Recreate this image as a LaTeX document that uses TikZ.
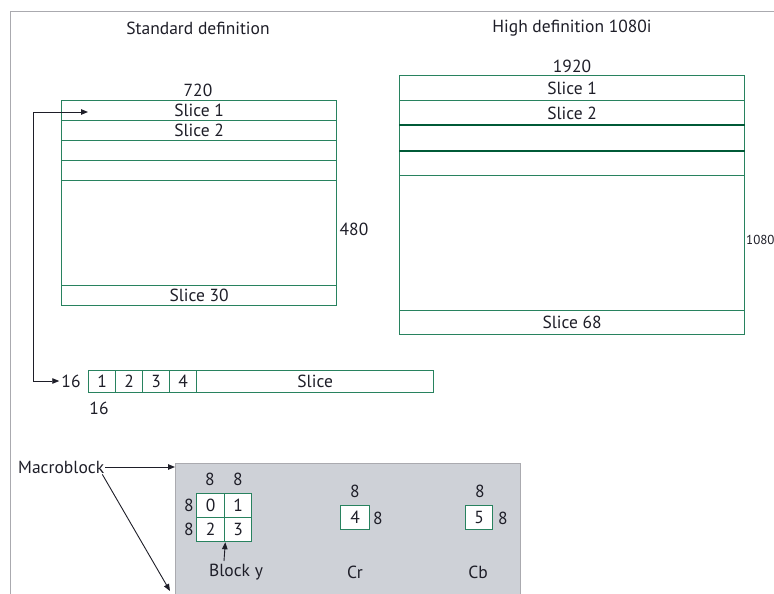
\documentclass[tikz,border=0pt]{standalone}
\usepackage{fontspec}
\setmainfont{PT Sans}
\usetikzlibrary{arrows.meta}
\definecolor{slicegreen}{RGB}{40,130,95}
\definecolor{darkgreen}{RGB}{0,90,55}
\definecolor{framegray}{RGB}{170,170,175}
\definecolor{mbgray}{RGB}{206,209,215}
\definecolor{ink}{RGB}{30,30,40}
\tikzset{
  lbl/.style={text=ink, font=\fontsize{17.5}{17.5}\selectfont, inner sep=0pt},
  cell/.style={draw=slicegreen, line width=1.3pt, fill=white, anchor=north west, inner sep=0pt,
    text=ink, font=\fontsize{17.5}{17.5}\selectfont},
  link/.style={draw=ink, line width=0.9pt, -{Triangle[length=7pt,width=5.5pt]}},
}
\begin{document}
\begin{tikzpicture}[x=1pt,y=-1pt]
\useasboundingbox (0,0) rectangle (774,594);
\clip (0,0) rectangle (774,594);
% outer frame
\draw[framegray, line width=1pt] (10,600) -- (10,12) -- (780,12);

% headings
\node[lbl] (sdtitle) at (198,28) {Standard definition};
\node[lbl] (hdtitle) at (572,28) {High definition 1080i};

% standard definition frame: 720 x 480
\node[cell, minimum width=275pt, minimum height=205pt] (sdframe) at (61,100) {};
\node[cell, minimum width=275pt, minimum height=20pt] (sd1) at (61,100) {Slice 1};
\node[cell, minimum width=275pt, minimum height=20pt] (sd2) at (61,120) {Slice 2};
\node[cell, minimum width=275pt, minimum height=20pt] (sd3) at (61,140) {};
\node[cell, minimum width=275pt, minimum height=20pt] (sd4) at (61,160) {};
\node[cell, minimum width=275pt, minimum height=20pt] (sd30) at (61,285) {Slice 30};
\node[lbl] (sdw) at (198,90) {720};
\node[lbl] (sdh) at (354,229) {480};

% high definition frame: 1920 x 1080
\node[cell, minimum width=345pt, minimum height=259pt] (hdframe) at (399,75) {};
\node[cell, minimum width=345pt, minimum height=25pt] (hd1) at (399,75) {Slice 1};
\node[cell, minimum width=345pt, minimum height=25pt] (hd2) at (399,100) {Slice 2};
\node[cell, minimum width=345pt, minimum height=25pt] (hd3) at (399,125) {};
\node[cell, minimum width=345pt, minimum height=25pt] (hd4) at (399,150) {};
\node[cell, minimum width=345pt, minimum height=24pt] (hd68) at (399,310) {Slice 68};
\draw[darkgreen, line width=2pt] (hd3.north west) -- (hd3.north east);
\draw[darkgreen, line width=2pt] (hd3.south west) -- (hd3.south east);
\node[lbl] (hdw) at (572,66) {1920};
\node[lbl, anchor=west, font=\fontsize{13}{13}\selectfont] (hdh) at (746,240) {1080};

% slice made of 16x16 macroblocks
\node[cell, minimum width=27pt, minimum height=22pt] (m1) at (88,370) {1};
\node[cell, minimum width=27pt, minimum height=22pt] (m2) at (115,370) {2};
\node[cell, minimum width=27pt, minimum height=22pt] (m3) at (142,370) {3};
\node[cell, minimum width=27pt, minimum height=22pt] (m4) at (169,370) {4};
\node[cell, minimum width=237pt, minimum height=22pt] (mrest) at (196,370) {Slice};
\node[lbl] (mbh) at (71,381) {16};
\node[lbl] (mbw) at (99,408) {16};

% slice 1 is expanded into the strip below
\coordinate (turnTop) at (33,112);
\coordinate (turnBot) at (33,381);
\coordinate (sliceIn) at (88,112);
\draw[link, {Triangle[length=7pt,width=5.5pt]}-{Triangle[length=7pt,width=5.5pt]}]
  (sliceIn) -- (turnTop) -- (turnBot) -- ([xshift=-2pt]mbh.west);

% macroblock structure
\node[draw=framegray, fill=mbgray, line width=1pt, anchor=north west, minimum width=345pt,
  minimum height=131pt, inner sep=0pt] (mb) at (175,463) {};
\node[lbl, anchor=west] (mbtext) at (18,467) {Macroblock};
\coordinate (mbTip) at (170,591);
\draw[link] ([xshift=1pt]mbtext.east) -- (mb.north west |- mbtext.east);
\draw[link] ([xshift=-2pt,yshift=-1pt]mbtext.south east) -- (mbTip);

% luminance blocks
\node[cell, minimum width=28pt, minimum height=24pt] (y0) at (196,493) {0};
\node[cell, minimum width=27pt, minimum height=24pt] (y1) at (224,493) {1};
\node[cell, minimum width=28pt, minimum height=24pt] (y2) at (196,517) {2};
\node[cell, minimum width=27pt, minimum height=24pt] (y3) at (224,517) {3};
\node[lbl] (yw1) at (210,479) {8};
\node[lbl] (yw2) at (238,479) {8};
\node[lbl] (yh1) at (189,505) {8};
\node[lbl] (yh2) at (189,529) {8};
\node[lbl] (ylabel) at (236,572) {Block y};
\draw[link] (224,561) -- (y2.south east);

% chrominance blocks
\node[cell, minimum width=29pt, minimum height=24pt] (cr) at (340,505) {4};
\node[lbl] (crw) at (355,491) {8};
\node[lbl] (crh) at (378,518) {8};
\node[lbl] (crlabel) at (355,572) {Cr};
\node[cell, minimum width=27pt, minimum height=24pt] (cb) at (465,505) {5};
\node[lbl] (cbw) at (480,491) {8};
\node[lbl] (cbh) at (503,518) {8};
\node[lbl] (cblabel) at (478,572) {Cb};
\end{tikzpicture}
\end{document}
